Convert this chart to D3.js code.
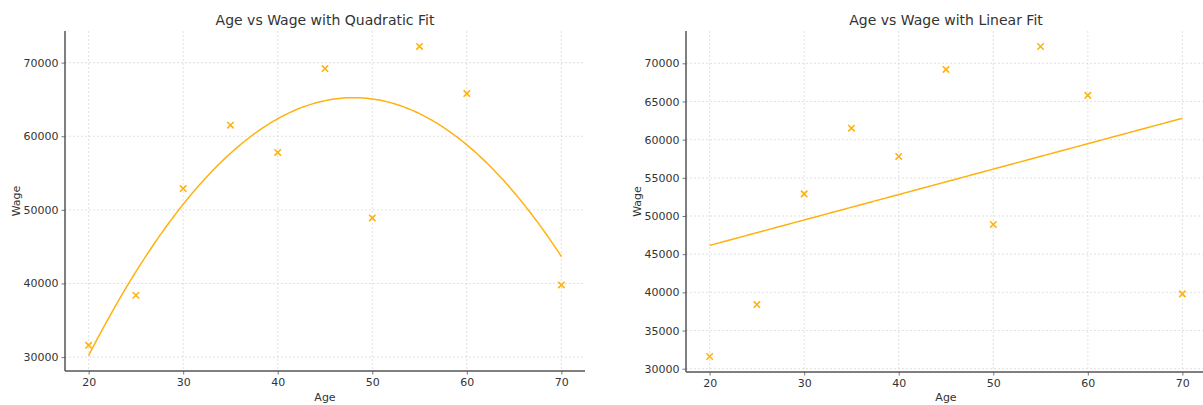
<!DOCTYPE html>
<html>
<head>
<meta charset="utf-8">
<script src="https://cdn.jsdelivr.net/npm/d3@7"></script>
<style>
  html, body { margin: 0; padding: 0; background: #fff; }
  svg { display: block; font-family: "DejaVu Sans", sans-serif; }
</style>
</head>
<body>
<svg id="chart" width="1203" height="405"></svg>
<script>
const ages = [20, 25, 30, 35, 40, 45, 50, 55, 60, 70];
const wages = [31600, 38400, 52900, 61500, 57800, 69200, 48900, 72200, 65800, 39800];
const xTicks = [20, 30, 40, 50, 60, 70];
const yTicksQuad = [30000, 40000, 50000, 60000, 70000];
const yTicksLin = [30000, 35000, 40000, 45000, 50000, 55000, 60000, 65000, 70000];
const titles = ["Age vs Wage with Quadratic Fit", "Age vs Wage with Linear Fit"];

const COLOR = "#ffb20f";
const TEXT = "#333";

// least squares polynomial fit (degree 1 or 2)
function polyfit(xs, ys, deg) {
  const n = deg + 1;
  const A = Array.from({length: n}, () => new Array(n + 1).fill(0));
  for (let i = 0; i < xs.length; i++) {
    for (let r = 0; r < n; r++) {
      for (let c = 0; c < n; c++) A[r][c] += Math.pow(xs[i], r + c);
      A[r][n] += ys[i] * Math.pow(xs[i], r);
    }
  }
  for (let p = 0; p < n; p++) {
    let m = p;
    for (let r = p + 1; r < n; r++) if (Math.abs(A[r][p]) > Math.abs(A[m][p])) m = r;
    [A[p], A[m]] = [A[m], A[p]];
    for (let r = 0; r < n; r++) {
      if (r === p) continue;
      const f = A[r][p] / A[p][p];
      for (let c = p; c <= n; c++) A[r][c] -= f * A[p][c];
    }
  }
  const coef = A.map((row, i) => row[n] / row[i]);
  return x => coef.reduce((s, c, i) => s + c * Math.pow(x, i), 0);
}

const svg = d3.select("#chart");

function panel(cfg) {
  const { left, right, top, bottom, deg, yTicks, title } = cfg;
  const f = polyfit(ages, wages, deg);
  const xs = d3.range(0, 201).map(i => 20 + i * 50 / 200);
  const fitPts = xs.map(x => [x, f(x)]);
  const allY = wages.concat(fitPts.map(d => d[1]));
  const yMin = d3.min(allY), yMax = d3.max(allY);
  const yPad = (yMax - yMin) * 0.05;
  const x = d3.scaleLinear().domain([17.5, 72.5]).range([left, right]);
  const y = d3.scaleLinear().domain([yMin - yPad, yMax + yPad]).range([bottom, top]);

  const g = svg.append("g");
  // grid
  g.append("g").selectAll("line").data(xTicks).join("line")
    .attr("x1", d => x(d)).attr("x2", d => x(d)).attr("y1", top).attr("y2", bottom)
    .attr("stroke", "#d9d9d9").attr("stroke-width", 0.8).attr("stroke-dasharray", "2,2");
  g.append("g").selectAll("line").data(yTicks).join("line")
    .attr("x1", left).attr("x2", right).attr("y1", d => y(d)).attr("y2", d => y(d))
    .attr("stroke", "#d9d9d9").attr("stroke-width", 0.8).attr("stroke-dasharray", "2,2");

  // axes
  const xAxis = g.append("g").attr("transform", `translate(0,${bottom})`)
    .call(d3.axisBottom(x).tickValues(xTicks).tickSize(3.5).tickPadding(4).tickFormat(d3.format("d")));
  const yAxis = g.append("g").attr("transform", `translate(${left},0)`)
    .call(d3.axisLeft(y).tickValues(yTicks).tickSize(3.5).tickPadding(3).tickFormat(d3.format("d")));
  [xAxis, yAxis].forEach(a => {
    a.select(".domain").remove();
    a.selectAll(".tick line").attr("stroke", "#555").attr("stroke-width", 0.8);
    a.selectAll(".tick text").attr("fill", TEXT).attr("font-size", 11)
      .attr("font-family", "DejaVu Sans, sans-serif");
  });
  // spines
  g.append("line").attr("x1", left).attr("x2", left).attr("y1", top).attr("y2", bottom)
    .attr("stroke", "#555").attr("stroke-width", 1.5);
  g.append("line").attr("x1", left).attr("x2", right).attr("y1", bottom).attr("y2", bottom)
    .attr("stroke", "#555").attr("stroke-width", 1.5);

  // fit line
  g.append("path").datum(fitPts)
    .attr("d", d3.line().x(d => x(d[0])).y(d => y(d[1])))
    .attr("fill", "none").attr("stroke", COLOR).attr("stroke-width", 1.5);

  // markers
  const s = 3.2;
  const pts = ages.map((a, i) => [a, wages[i]]);
  g.append("g").selectAll("path").data(pts).join("path")
    .attr("d", d => {
      const cx = x(d[0]), cy = y(d[1]);
      return `M${cx - s},${cy - s}L${cx + s},${cy + s}M${cx - s},${cy + s}L${cx + s},${cy - s}`;
    })
    .attr("stroke", COLOR).attr("stroke-width", 1.6).attr("fill", "none");

  // labels
  const cx = (left + right) / 2;
  g.append("text").attr("x", cx).attr("y", 25).attr("text-anchor", "middle")
    .attr("font-size", 14).attr("fill", TEXT).text(title);
  g.append("text").attr("x", cx).attr("y", 401).attr("text-anchor", "middle")
    .attr("font-size", 11).attr("fill", TEXT).text("Age");
  g.append("text").attr("transform", `translate(${cfg.yLabelX},${(top + bottom) / 2}) rotate(-90)`)
    .attr("text-anchor", "middle").attr("font-size", 11).attr("fill", TEXT).text("Wage");
}

panel({ left: 65, right: 585, top: 31, bottom: 371, deg: 2, yTicks: yTicksQuad, title: titles[0], yLabelX: 20 });
panel({ left: 686, right: 1206, top: 31, bottom: 372, deg: 1, yTicks: yTicksLin, title: titles[1], yLabelX: 641 });
</script>
</body>
</html>
